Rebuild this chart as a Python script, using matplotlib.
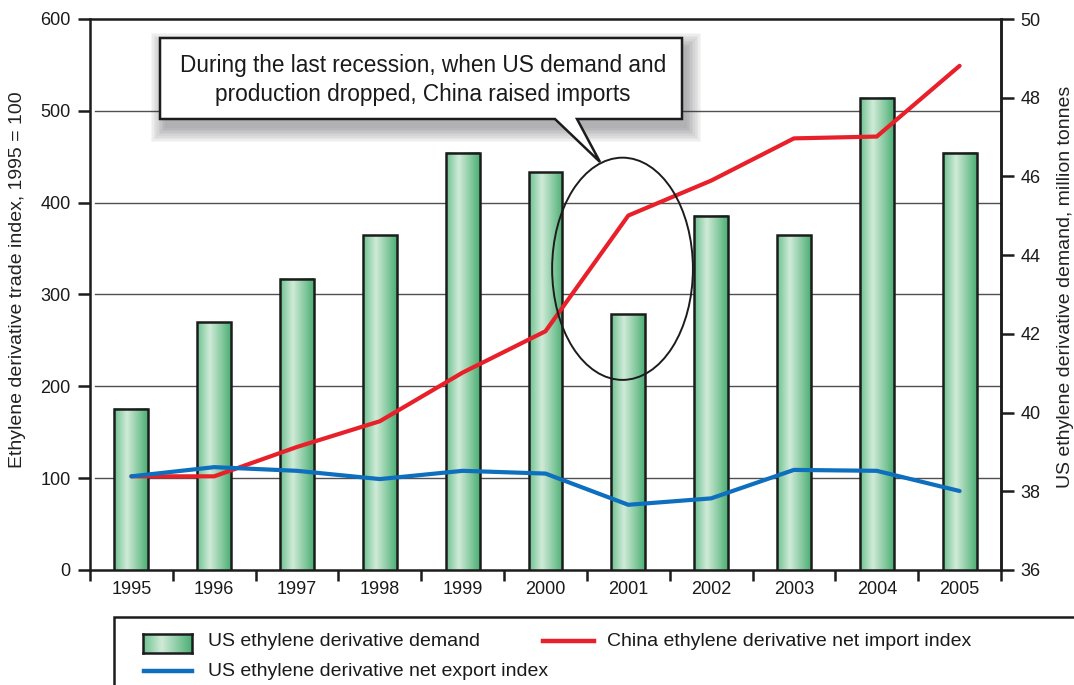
import numpy as np
import matplotlib
matplotlib.use("Agg")
import matplotlib.pyplot as plt
from matplotlib.colors import LinearSegmentedColormap
from matplotlib.patches import Rectangle, Ellipse, Polygon
from matplotlib.lines import Line2D
from matplotlib.transforms import blended_transform_factory

plt.rcParams["font.family"] = ["Liberation Sans", "DejaVu Sans"]

# ---- data -------------------------------------------------------------
years = ["1995", "1996", "1997", "1998", "1999", "2000",
         "2001", "2002", "2003", "2004", "2005"]
us_demand = [40.1, 42.3, 43.4, 44.5, 46.6, 46.1, 42.5, 45.0, 44.5, 48.0, 46.6]   # million tonnes
china_import_index = [102, 102, 134, 162, 215, 260, 386, 424, 470, 472, 549]
us_export_index = [102, 112, 108, 99, 108, 105, 71, 78, 109, 108, 86]

left_ticks = [0, 100, 200, 300, 400, 500, 600]
right_ticks = [36, 38, 40, 42, 44, 46, 48, 50]
grid_levels = [100, 200, 300, 400, 500]

callout_text = ("During the last recession, when US demand and\n"
                "production dropped, China raised imports")

RED = "#e8202a"
BLUE = "#0e6fbe"
EDGE = "#1c1c1c"
bar_cmap = LinearSegmentedColormap.from_list(
    "bar", [(0.0, "#6cc190"), (0.38, "#d0ebd8"), (1.0, "#4caf74")])

# ---- figure / axes ----------------------------------------------------
W, H = 1074, 685
fig = plt.figure(figsize=(W / 100, H / 100), dpi=100)


def P(px, py):
    """pixel position -> figure fraction"""
    return (px / W, 1 - py / H)


ax1 = fig.add_axes([90 / W, 1 - 570 / H, 911 / W, 551 / H])
ax2 = ax1.twinx()
ax1.set_zorder(2)
ax2.set_zorder(1)
ax1.patch.set_visible(False)
ax2.patch.set_visible(True)
ax2.patch.set_facecolor("white")

x = np.arange(len(years))

# horizontal grid at the left-axis levels, behind the bars
gtrans = blended_transform_factory(ax2.transAxes, ax1.transData)
for v in grid_levels:
    ax2.add_line(Line2D([0.005, 1], [v, v], transform=gtrans,
                        color="#505050", lw=1.0, zorder=1))

# demand bars with a shaded fill
bars = ax2.bar(x, us_demand, width=0.41, color="none", edgecolor=EDGE,
               linewidth=1.8, zorder=3)
grad = np.linspace(0, 1, 256).reshape(1, -1)
for r in bars:
    x0, w, h = r.get_x(), r.get_width(), r.get_height()
    ax2.imshow(grad, cmap=bar_cmap, extent=(x0, x0 + w, 36, h),
               aspect="auto", interpolation="bicubic", zorder=2)

# index lines
ax1.plot(x, china_import_index, color=RED, lw=3.0, solid_capstyle="round",
         solid_joinstyle="round", zorder=4)
ax1.plot(x, us_export_index, color=BLUE, lw=3.0, solid_capstyle="round",
         solid_joinstyle="round", zorder=5)

# highlight of 2001
ax1.add_patch(Ellipse((5.93, 328), 1.70, 242, fill=False, ec=EDGE,
                      lw=1.4, zorder=6))

# limits, ticks
ax1.set_xlim(-0.5, len(years) - 0.5)
ax1.set_ylim(0, 600)
ax2.set_ylim(36, 50)
ax1.set_yticks(left_ticks)
ax2.set_yticks(right_ticks)
ax1.set_xticks(x)
ax1.set_xticklabels(years)
ax1.set_xticks(np.arange(-0.5, len(years)), minor=True)

ax1.tick_params(axis="x", which="major", length=0, pad=8, labelsize=13,
                colors="#1a1a1a")
ax1.tick_params(axis="x", which="minor", length=8, width=1.8, color=EDGE,
                direction="out")
ax1.tick_params(axis="y", length=9, width=1.8, color=EDGE, labelsize=13,
                pad=5, labelcolor="#1a1a1a")
ax2.tick_params(axis="y", length=9, width=1.8, color=EDGE, labelsize=13,
                pad=5, labelcolor="#1a1a1a")

for s in ax1.spines.values():
    s.set_linewidth(1.8)
    s.set_color(EDGE)
for s in ax2.spines.values():
    s.set_visible(False)
ax2.spines["right"].set_visible(True)
ax2.spines["right"].set_linewidth(1.8)
ax2.spines["right"].set_color(EDGE)

fig.text(*P(18, 280), "Ethylene derivative trade index, 1995 = 100",
         rotation=90, ha="center", va="center", fontsize=14, color="#222222")
fig.text(*P(1066, 287), "US ethylene derivative demand, million tonnes",
         rotation=90, ha="center", va="center", fontsize=14, color="#222222")

# ---- callout box ------------------------------------------------------
box_pts = [(160, 38), (682, 38), (682, 119), (577, 119), (600, 162),
           (555, 119), (160, 119)]
for i in range(10):
    e = 1.6 * i
    shadow = [P(160 + 5 - e, 38 + 9 - e), P(682 + 5 + e, 38 + 9 - e),
              P(682 + 5 + e, 119 + 9 + e), P(160 + 5 - e, 119 + 9 + e)]
    fig.add_artist(Polygon(shadow, closed=True, facecolor="#30303a",
                           edgecolor="none", alpha=0.045, zorder=8))
fig.add_artist(Polygon([P(*p) for p in box_pts], closed=True,
                       facecolor="white", edgecolor=EDGE, lw=1.8,
                       joinstyle="miter", zorder=9))
fig.text(*P(423, 80), callout_text, ha="center", va="center", fontsize=16.3,
         linespacing=1.36, color="#1a1a1a", zorder=10)

# ---- legend -----------------------------------------------------------
fig.add_artist(Rectangle(P(114, 700), (1100 - 114) / W, (700 - 617) / H,
                         facecolor="white", edgecolor=EDGE, lw=1.8,
                         zorder=8))
lax = fig.add_axes([143 / W, 1 - 653 / H, 49 / W, 19 / H], zorder=9)
lax.imshow(grad, cmap=bar_cmap, aspect="auto", interpolation="bicubic")
lax.set_xticks([])
lax.set_yticks([])
for s in lax.spines.values():
    s.set_linewidth(1.8)
    s.set_color(EDGE)

fig.add_artist(Line2D([P(144, 0)[0], P(192, 0)[0]], [P(0, 671)[1]] * 2,
                      color=BLUE, lw=3.2, zorder=9))
fig.add_artist(Line2D([P(543, 0)[0], P(594, 0)[0]], [P(0, 641)[1]] * 2,
                      color=RED, lw=3.2, zorder=9))
fig.text(*P(208, 642), "US ethylene derivative demand", ha="left",
         va="center", fontsize=14, color="#1a1a1a", zorder=10)
fig.text(*P(607, 641), "China ethylene derivative net import index",
         ha="left", va="center", fontsize=14, color="#1a1a1a", zorder=10)
fig.text(*P(208, 671), "US ethylene derivative net export index",
         ha="left", va="center", fontsize=14, color="#1a1a1a", zorder=10)

fig.savefig("out.png", dpi=100)
